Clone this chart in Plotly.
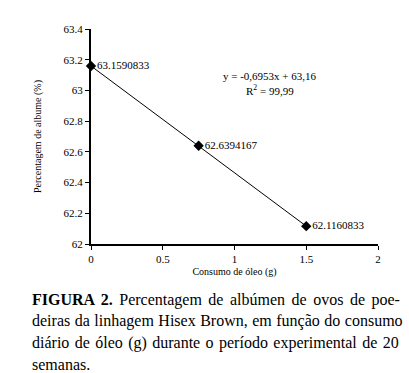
import plotly.graph_objects as go

consumo = [0, 0.75, 1.5]
albume = [63.1590833, 62.6394167, 62.1160833]
labels = ["63.1590833", "62.6394167", "62.1160833"]
x_ticks = [0, 0.5, 1, 1.5, 2]
x_ticklabels = ["0", "0.5", "1", "1.5", "2"]
y_ticks = [62, 62.2, 62.4, 62.6, 62.8, 63, 63.2, 63.4]
y_ticklabels = ["62", "62.2", "62.4", "62.6", "62.8", "63", "63.2", "63.4"]
equation = "y = -0,6953x + 63,16"
r2 = "R<sup>2</sup> = 99,99"
caption_lines = [
    "<b>FIGURA 2.</b> Percentagem de albúmen de ovos de poe-",
    "deiras da linhagem Hisex Brown, em função do consumo",
    "diário de óleo (g) durante o período experimental de 20",
    "semanas.",
]
caption_spacing = [2.5, 0.5, 1.4, 0]

FONT = "Liberation Serif, Times New Roman, serif"
L, R, T, B = 91, 31, 29, 129

fig = go.Figure()
fig.add_trace(go.Scatter(
    x=consumo, y=albume, text=labels,
    mode="lines+markers+text", textposition="middle right",
    line=dict(color="black", width=1),
    marker=dict(symbol="diamond", size=8, color="black"),
    textfont=dict(family=FONT, size=11, color="black"),
    cliponaxis=False, showlegend=False,
))

fig.update_xaxes(
    range=[0, 2], tickvals=x_ticks, ticktext=x_ticklabels,
    showline=True, linecolor="black", linewidth=2, mirror=False,
    ticks="outside", ticklen=4, tickwidth=1, tickcolor="black",
    showgrid=False, zeroline=False,
    tickfont=dict(family=FONT, size=11, color="black"),
    title=dict(text="Consumo de óleo (g)", font=dict(family=FONT, size=10, color="black"), standoff=4),
)
fig.update_yaxes(
    range=[62, 63.4], tickvals=y_ticks, ticktext=y_ticklabels,
    showline=True, linecolor="black", linewidth=2,
    ticks="outside", ticklen=4, tickwidth=1, tickcolor="black",
    showgrid=False, zeroline=False,
    tickfont=dict(family=FONT, size=11, color="black"),
    title=dict(text="Percentagem de albume (%)", font=dict(family=FONT, size=10, color="black"), standoff=20),
)

annotations = [
    dict(xref="paper", yref="paper", x=0.623, y=0.781, text=equation, showarrow=False,
         xanchor="center", yanchor="middle", font=dict(family=FONT, size=11, color="black")),
    dict(xref="paper", yref="paper", x=0.623, y=0.716, text=r2, showarrow=False,
         xanchor="center", yanchor="middle", font=dict(family=FONT, size=11, color="black")),
]
line_y = [300, 321, 343, 364]
for txt, ws, yy in zip(caption_lines, caption_spacing, line_y):
    annotations.append(dict(
        xref="paper", yref="paper", x=0, y=0, xshift=30 - L, yshift=-(yy - (373 - B)),
        text=f'<span style="word-spacing:{ws}px">{txt}</span>', showarrow=False,
        xanchor="left", yanchor="middle",
        font=dict(family=FONT, size=16, color="black"),
    ))

fig.update_layout(
    width=409, height=373,
    margin=dict(l=L, r=R, t=T, b=B),
    paper_bgcolor="white", plot_bgcolor="white",
    annotations=annotations,
)
fig.write_html("out.html", config={"displayModeBar": False},
               post_script="document.body.style.margin='0';document.body.style.overflow='hidden';")
